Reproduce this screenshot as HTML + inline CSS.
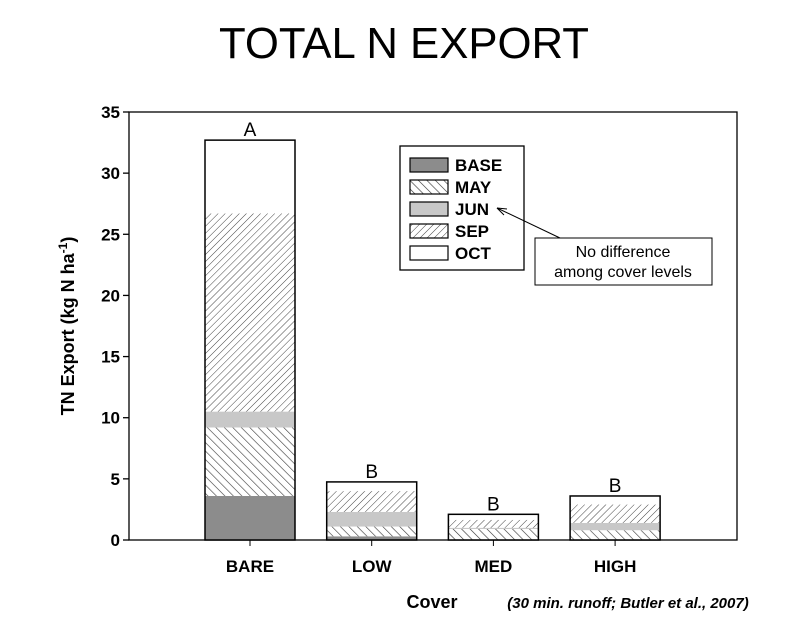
<!DOCTYPE html>
<html><head><meta charset="utf-8"><style>
body{margin:0;background:#fff;width:808px;height:618px;overflow:hidden}
svg text{font-family:"Liberation Sans",Arial,sans-serif}
</style></head><body>
<svg width="808" height="618">
<defs>
<pattern id="pMay" width="6" height="6" patternUnits="userSpaceOnUse" patternTransform="rotate(-45)"><rect width="6" height="6" fill="#fff"/><line x1="0" y1="0" x2="0" y2="6" stroke="#333" stroke-width="1.2"/></pattern>
<pattern id="pSep" width="5" height="5" patternUnits="userSpaceOnUse" patternTransform="rotate(45)"><rect width="5" height="5" fill="#fff"/><line x1="0" y1="0" x2="0" y2="5" stroke="#444" stroke-width="1"/></pattern>
</defs>
<text x="404" y="58" text-anchor="middle" font-size="44" style="font-family:'Liberation Sans',sans-serif" textLength="370" lengthAdjust="spacingAndGlyphs">TOTAL N EXPORT</text>
<g id="plot"></g>
<g>
<rect x="400" y="146" width="124" height="124" fill="#fff" stroke="#000" stroke-width="1.3"/>
<g id="leg"></g>
</g>
<g>
<rect x="535" y="238" width="177" height="47" fill="#fff" stroke="#000" stroke-width="1"/>
<text x="623" y="257" text-anchor="middle" font-size="16">No difference</text>
<text x="623" y="277" text-anchor="middle" font-size="16">among cover levels</text>
<line x1="560" y1="238" x2="497" y2="208" stroke="#000" stroke-width="1"/>
<path d="M497 208 L507 209 M497 208 L504 215" stroke="#000" fill="none"/>
</g>
<text x="432" y="608" text-anchor="middle" font-size="18" font-weight="bold">Cover</text>
<text x="628" y="608" text-anchor="middle" font-size="15" font-weight="bold" font-style="italic">(30 min. runoff; Butler et al., 2007)</text>
<text transform="translate(74,326) rotate(-90)" text-anchor="middle" font-size="18" font-weight="bold">TN Export (kg N ha<tspan dy="-7" font-size="12">-1</tspan><tspan dy="7">)</tspan></text>
</svg>
<script>
const categories=["BARE","LOW","MED","HIGH"];
const letters=["A","B","B","B"];
const seriesNames=["BASE","MAY","JUN","SEP","OCT"];
const base=[3.6,0.3,0.05,0.05];
const may=[5.6,0.8,0.85,0.75];
const jun=[1.3,1.2,0.1,0.6];
const sep=[16.2,1.7,0.65,1.5];
const oct=[6.0,0.75,0.45,0.7];
const yTicks=[0,5,10,15,20,25,30,35];
const series=[base,may,jun,sep,oct];
const fills=["#8c8c8c","url(#pMay)","#c8c8c8","url(#pSep)","#fff"];
const NS="http://www.w3.org/2000/svg";
const X0=129,X1=737,Y0=540,YT=112,YMAX=35;
const y=v=>Y0-(v/YMAX)*(Y0-YT);
const xc=i=>250+i*121.7;
const BW=90;
const g=document.getElementById('plot');
function mk(t,a,p){const e=document.createElementNS(NS,t);for(const k in a)e.setAttribute(k,a[k]);(p||g).appendChild(e);return e;}
const fr=mk('rect',{x:X0,y:YT,width:X1-X0,height:Y0-YT,fill:'none',stroke:'#000','stroke-width':1.3});


yTicks.forEach(t=>{
 const l=mk('line',{x1:X0-6,x2:X0,y1:y(t),y2:y(t),stroke:'#000','stroke-width':1.3});
 
 
 const tx=mk('text',{x:X0-9,y:y(t)+6,'text-anchor':'end','font-size':17,'font-weight':'bold'});
 tx.textContent=t;
 
 
});
categories.forEach((c,i)=>{
 const cx=xc(i);
 let acc=0;
 series.forEach((s,k)=>{
  const v=s[i];
  const r=mk('rect',{x:cx-BW/2,y:y(acc+v),width:BW,height:Math.max(0,y(acc)-y(acc+v)),fill:fills[k]});
  
  
  acc+=v;
 });
 const o=mk('rect',{x:cx-BW/2,y:y(acc),width:BW,height:Y0-y(acc),fill:'none',stroke:'#000','stroke-width':1.5});
 
 
 const lt=mk('text',{x:cx,y:y(acc)-4,'text-anchor':'middle','font-size':19});
 lt.textContent=letters[i];
 
 
 const tk=mk('line',{x1:cx,x2:cx,y1:Y0,y2:Y0+6,stroke:'#000'});
 
 
 const xl=mk('text',{x:cx,y:572,'text-anchor':'middle','font-size':17,'font-weight':'bold'});
 xl.textContent=c;
 
 
});
const lg=document.getElementById('leg');
seriesNames.forEach((n,k)=>{
 const yy=165+k*22;
 const r=mk('rect',{x:410,y:yy-7,width:38,height:14,fill:fills[k],stroke:'#000','stroke-width':1.2},lg);
 
 
 const t=mk('text',{x:455,y:yy+6,'font-size':17,'font-weight':'bold'},lg);
 t.textContent=n;
 
 
});
</script>
</body></html>
